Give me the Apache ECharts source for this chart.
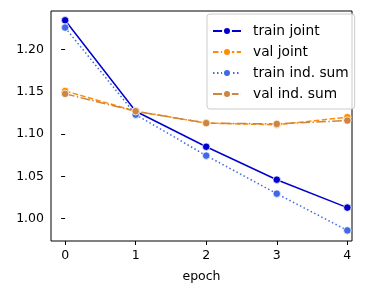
<!DOCTYPE html>
<html><head><meta charset="utf-8">
<script src="https://cdn.jsdelivr.net/npm/echarts@6/dist/echarts.min.js"></script>
<style>html,body{margin:0;padding:0;background:#fff}#c{width:370px;height:294px}</style>
</head><body><div id="c"></div>
<script>
const epochs = [0, 1, 2, 3, 4];
const trainJoint = [1.2346, 1.127, 1.085, 1.046, 1.013];
const valJoint = [1.151, 1.127, 1.113, 1.111, 1.120];
const trainIndSum = [1.226, 1.123, 1.0745, 1.0295, 0.986];
const valIndSum = [1.1476, 1.127, 1.113, 1.112, 1.116];
const yTicks = [1.00, 1.05, 1.10, 1.15, 1.20];
const xTicks = [0, 1, 2, 3, 4];

const F = 'DejaVu Sans';
function mk(name, data, color, dash) {
  return {
    name, type: 'line',
    data: epochs.map((e, i) => [e, data[i]]),
    symbol: 'circle', symbolSize: 7.5,
    lineStyle: { color, width: 1.5, type: dash },
    itemStyle: { color, borderColor: '#fff', borderWidth: 0.75 },
    emphasis: { disabled: true },
    animation: false
  };
}
const chart = echarts.init(document.getElementById('c'), null, { renderer: 'canvas' });
chart.setOption({
  animation: false,
  grid: { left: 51, top: 11, right: 18, bottom: 53, show: true, borderColor: '#000', borderWidth: 1, backgroundColor: 'transparent' },
  xAxis: {
    type: 'value', min: -0.2, max: 4.066,
    name: 'epoch', nameLocation: 'middle', nameGap: 29,
    nameTextStyle: { fontFamily: F, fontSize: 12.5, color: '#000' },
    axisLine: { show: false }, splitLine: { show: false },
    axisTick: { show: true, length: 4, customValues: xTicks, lineStyle: { color: '#000' } },
    axisLabel: { customValues: xTicks, fontFamily: F, fontSize: 12.5, color: '#000', margin: 8 }
  },
  yAxis: {
    type: 'value', min: 0.9735, max: 1.2456,
    axisLine: { show: false }, splitLine: { show: false },
    axisTick: { show: true, length: 4, customValues: yTicks, lineStyle: { color: '#000' } },
    axisLabel: { customValues: yTicks, fontFamily: F, fontSize: 12.5, color: '#000', margin: 7,
      formatter: v => v.toFixed(2) }
  },
  legend: {
    left: 207, top: 14, orient: 'vertical',
    itemWidth: 28, itemHeight: 10, itemGap: 7,
    backgroundColor: 'rgba(255,255,255,0.8)', borderColor: '#ccc', borderWidth: 1, borderRadius: 3,
    padding: [10, 6, 8, 5],
    textStyle: { fontFamily: F, fontSize: 13.75, color: '#000', padding: [0, 0, 0, 7] },
    data: ['train joint', 'val joint', 'train ind. sum', 'val ind. sum']
  },
  series: [
    mk('train joint', trainJoint, '#0000CD', 'solid'),
    mk('val joint', valJoint, '#FF8C00', [5.5, 2.4]),
    mk('train ind. sum', trainIndSum, '#4169E1', [1.5, 2.5]),
    mk('val ind. sum', valIndSum, '#CD853F', [9.6, 2.4, 1.5, 2.4])
  ]
});
</script></body></html>
